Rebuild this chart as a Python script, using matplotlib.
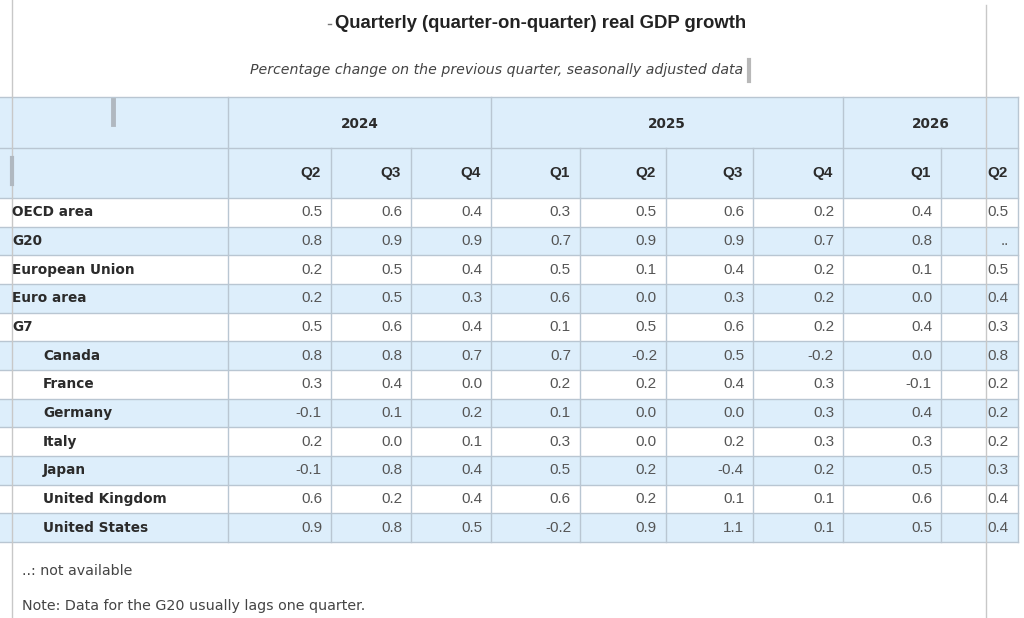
import matplotlib.pyplot as plt
from matplotlib.patches import Rectangle

plt.rcParams['font.family'] = ['Liberation Sans', 'DejaVu Sans']

# table content
years = ['2024', '2025', '2026']
year_span = [3, 4, 2]
quarters = ['Q2', 'Q3', 'Q4', 'Q1', 'Q2', 'Q3', 'Q4', 'Q1', 'Q2']
regions = ['OECD area', 'G20', 'European Union', 'Euro area', 'G7',
           'Canada', 'France', 'Germany', 'Italy', 'Japan',
           'United Kingdom', 'United States']
indented = [False, False, False, False, False,
            True, True, True, True, True, True, True]

oecd = [0.5, 0.6, 0.4, 0.3, 0.5, 0.6, 0.2, 0.4, 0.5]
g20 = [0.8, 0.9, 0.9, 0.7, 0.9, 0.9, 0.7, 0.8, None]
eu = [0.2, 0.5, 0.4, 0.5, 0.1, 0.4, 0.2, 0.1, 0.5]
euro = [0.2, 0.5, 0.3, 0.6, 0.0, 0.3, 0.2, 0.0, 0.4]
g7 = [0.5, 0.6, 0.4, 0.1, 0.5, 0.6, 0.2, 0.4, 0.3]
canada = [0.8, 0.8, 0.7, 0.7, -0.2, 0.5, -0.2, 0.0, 0.8]
france = [0.3, 0.4, 0.0, 0.2, 0.2, 0.4, 0.3, -0.1, 0.2]
germany = [-0.1, 0.1, 0.2, 0.1, 0.0, 0.0, 0.3, 0.4, 0.2]
italy = [0.2, 0.0, 0.1, 0.3, 0.0, 0.2, 0.3, 0.3, 0.2]
japan = [-0.1, 0.8, 0.4, 0.5, 0.2, -0.4, 0.2, 0.5, 0.3]
uk = [0.6, 0.2, 0.4, 0.6, 0.2, 0.1, 0.1, 0.6, 0.4]
us = [0.9, 0.8, 0.5, -0.2, 0.9, 1.1, 0.1, 0.5, 0.4]
values = [oecd, g20, eu, euro, g7, canada, france, germany, italy, japan, uk, us]

title = 'Quarterly (quarter-on-quarter) real GDP growth'
subtitle = 'Percentage change on the previous quarter, seasonally adjusted data'
notes = ['..: not available', 'Note: Data for the G20 usually lags one quarter.']

# layout in pixels
col_edges = [0, 228, 331, 411, 491, 580, 666, 753, 843, 941, 1018]
head_top, head_mid, head_bot = 97, 148, 198
row_h = 28.67
blue = '#ddeefb'
grid = '#b9c6d2'
label_col = '#2b2b2b'
value_col = '#555555'

fig = plt.figure(figsize=(10.24, 6.18), dpi=100)
ax = fig.add_axes([0, 0, 1, 1])
ax.set_xlim(0, 1024)
ax.set_ylim(618, 0)
ax.axis('off')

# header background
ax.add_patch(Rectangle((0, head_top), col_edges[-1], head_bot - head_top,
                       facecolor=blue, edgecolor='none'))
# striped rows
for i in range(len(regions)):
    y0 = head_bot + i * row_h
    if i % 2 == 1:
        ax.add_patch(Rectangle((0, y0), col_edges[-1], row_h,
                               facecolor=blue, edgecolor='none'))

table_bot = head_bot + len(regions) * row_h

# horizontal lines
for y in [head_top, head_mid, head_bot] + [head_bot + i * row_h for i in range(1, len(regions) + 1)]:
    ax.plot([0, col_edges[-1]], [y, y], color=grid, lw=1)
# vertical lines: year group borders over both header rows
group_edges = [col_edges[0], col_edges[1]]
k = 1
for s in year_span:
    k += s
    group_edges.append(col_edges[k])
for x in col_edges[1:]:
    top = head_top if x in group_edges else head_mid
    ax.plot([x, x], [top, table_bot], color=grid, lw=1)

# year headers
k = 1
for yr, s in zip(years, year_span):
    xc = (col_edges[k] + col_edges[k + s]) / 2
    ax.text(xc, (head_top + head_mid) / 2 + 1.5, yr, ha='center', va='center',
            fontsize=9.8, fontweight='bold', color=label_col, family='DejaVu Sans')
    k += s

# quarter headers
for j, q in enumerate(quarters):
    ax.text(col_edges[j + 2] - 10, (head_mid + head_bot) / 2, q, ha='right',
            va='center', fontsize=11, fontweight='bold', color=label_col)

# body
for i, (name, vals) in enumerate(zip(regions, values)):
    yc = head_bot + (i + 0.5) * row_h
    ax.text(43 if indented[i] else 12, yc, name, ha='left', va='center',
            fontsize=9.8, fontweight='bold', color=label_col, family='DejaVu Sans')
    for j, v in enumerate(vals):
        txt = '..' if v is None else f'{v:.1f}'
        ax.text(col_edges[j + 2] - 9, yc, txt, ha='right', va='center',
                fontsize=11, color=value_col)

# page margin lines of the source document
ax.plot([12, 12], [0, 618], color='#c8c8c8', lw=1)
ax.plot([986, 986], [5, 618], color='#c8c8c8', lw=1)
# editing cursor marks
ax.plot([113, 113], [100, 124], color='#b0b8c0', lw=3.5)
ax.plot([12, 12], [158, 184], color='#b0b8c0', lw=3)
ax.plot([749, 749], [60, 81], color='#b8b8b8', lw=3)
ax.plot([328, 331], [24, 24], color='#777777', lw=1)

ax.text(541, 23, title, ha='center', va='center', fontsize=13.3,
        fontweight='bold', color='#222222')
ax.text(497, 70, subtitle, ha='center', va='center', fontsize=10.2,
        style='italic', color='#444444', family='DejaVu Sans')
ax.text(22, 571, notes[0], ha='left', va='center', fontsize=10.3,
        color='#444444', family='DejaVu Sans')
ax.text(22, 606, notes[1], ha='left', va='center', fontsize=10.3,
        color='#444444', family='DejaVu Sans')

fig.savefig('out.png', dpi=100)
